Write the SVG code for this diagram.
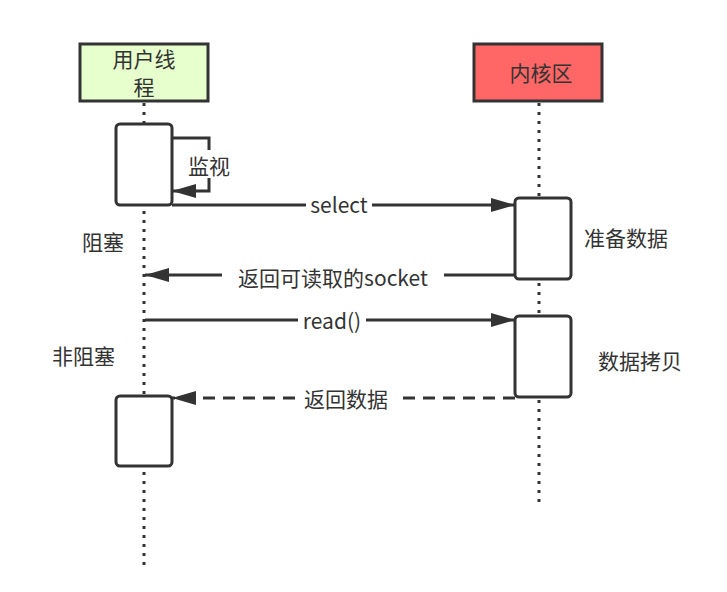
<svg xmlns="http://www.w3.org/2000/svg" width="727" height="592" viewBox="0 0 727 592">
<style>
text{font-family:"Noto Sans CJK SC","Liberation Sans",sans-serif;font-size:21px;fill:#333}
.life{stroke:#333;stroke-width:3;stroke-dasharray:3 6;fill:none}
.act{fill:#fff;stroke:#333;stroke-width:3}
.ln{stroke:#333;stroke-width:3;fill:none}
.bg{fill:#fff}
</style>
<defs>
<marker id="a" viewBox="0 0 24 14" refX="24" refY="7" markerWidth="24" markerHeight="14" orient="auto" markerUnits="userSpaceOnUse"><path d="M0,0L24,7L0,14z" fill="#333"/></marker></defs>
<rect width="727" height="592" fill="#fff"/>
<g id="lifelines">
<line class="life" x1="144" y1="103" x2="144" y2="565"/>
<line class="life" x1="539" y1="103" x2="539" y2="508"/>
</g>
<g id="user"><rect x="80" y="44" width="128" height="57" fill="#e6ffcc" stroke="#333" stroke-width="3"/><text x="144" y="67" text-anchor="middle">用户线</text><text x="144" y="95" text-anchor="middle">程</text></g>
<g id="kernel"><rect x="474" y="44" width="128" height="57" fill="#ff6666" stroke="#333" stroke-width="3"/><text x="541" y="81" text-anchor="middle">内核区</text></g>
<g id="act1"><rect class="act" x="116" y="124" width="56" height="81" rx="4"/></g>
<g id="act2"><rect class="act" x="515" y="198" width="56" height="81" rx="4"/></g>
<g id="act3"><rect class="act" x="515" y="316" width="56" height="81" rx="4"/></g>
<g id="act4"><rect class="act" x="116" y="396" width="56" height="70" rx="4"/></g>
<g id="connectors">
<path class="ln" d="M172,138H209V191H172" marker-end="url(#a)"/>
<line class="ln" x1="172" y1="205" x2="515" y2="205" marker-end="url(#a)"/>
<line class="ln" x1="515" y1="275" x2="145" y2="275" marker-end="url(#a)"/>
<line class="ln" x1="145" y1="320" x2="515" y2="320" marker-end="url(#a)"/>
<line class="ln" x1="515" y1="398" x2="172" y2="398" stroke-dasharray="12 8" marker-end="url(#a)"/>
<rect class="bg" x="184" y="150" width="50" height="28"/>
<rect class="bg" x="306" y="192" width="66" height="26"/>
<rect class="bg" x="222" y="262" width="222" height="26"/>
<rect class="bg" x="298" y="307" width="68" height="26"/>
<rect class="bg" x="297" y="385" width="98" height="26"/>
<text x="209" y="174" text-anchor="middle">监视</text>
<text x="339" y="213" text-anchor="middle">select</text>
<text x="333" y="286" text-anchor="middle">返回可读取的socket</text>
<text x="332" y="329" text-anchor="middle">read()</text>
<text x="346" y="407" text-anchor="middle">返回数据</text>
</g>
<text x="82" y="250">阻塞</text>
<text x="52" y="364">非阻塞</text>
<text x="584" y="246">准备数据</text>
<text x="598" y="369">数据拷贝</text>
</svg>
